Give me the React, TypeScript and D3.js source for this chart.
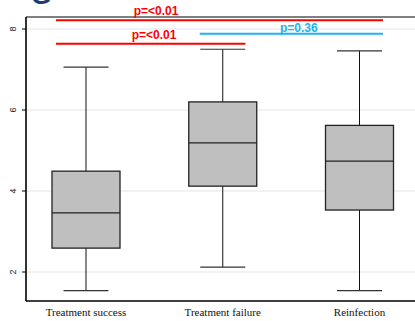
import React from "react";
import * as d3 from "d3";

const categories = ["Treatment success", "Treatment failure", "Reinfection"];
const whiskerLow = [1.54, 2.12, 1.54];
const q1 = [2.59, 4.12, 3.53];
const median = [3.46, 5.19, 4.74];
const q3 = [4.49, 6.2, 5.62];
const whiskerHigh = [7.06, 7.5, 7.46];
const yTicks = [2, 4, 6, 8];

const compFrom = [0, 0, 1];
const compTo = [2, 1, 2];
const compLevel = [8.215, 7.637, 7.884];
const compLabel = ["p=<0.01", "p=<0.01", "p=0.36"];
const compColor = ["#FF0000", "#FF0000", "#1CB4EE"];

const W = 415;
const H = 321;

export default function App() {
  const left = 26;
  const top = 17;
  const bottom = 301;
  const y = d3.scaleLinear().domain([2, 8]).range([272, 29]);
  const x = d3.scalePoint<string>().domain(categories).range([86, 359.5]);
  const boxW = 68;
  const capW = 45;

  const lineStart = [-30, -30, -23];
  const lineEnd = [23.5, 22.7, 23.5];
  const textOffset = [70, 68, 76];
  const textDy = [-4.8, -4.7, -1.7];

  return (
    <svg
      width={W}
      height={H}
      style={{ position: "absolute", left: 0, top: 0, background: "#fff" }}
    >
      <text
        x={31}
        y={4}
        fontFamily="Liberation Sans, Arial, sans-serif"
        fontWeight="bold"
        fontSize={26}
        fill="#1F3B73"
      >
        G
      </text>
      {yTicks.map((t) => (
        <line key={"g" + t} x1={left} x2={W} y1={y(t)} y2={y(t)} stroke="#E6E6E6" strokeWidth={1.2} />
      ))}
      <line x1={left} x2={W} y1={top} y2={top} stroke="#555" strokeWidth={1.5} />
      <line x1={left} x2={left} y1={top} y2={bottom} stroke="#000" strokeWidth={1.6} />
      <line x1={left} x2={W} y1={bottom} y2={bottom} stroke="#000" strokeWidth={1.6} />
      {yTicks.map((t) => (
        <g key={"t" + t}>
          <line x1={left - 4} x2={left} y1={y(t)} y2={y(t)} stroke="#000" strokeWidth={1} />
          <text
            transform={`translate(16,${y(t)}) rotate(-90)`}
            textAnchor="middle"
            fontFamily="Liberation Sans, Arial, sans-serif"
            fontSize={9}
            fill="#222"
          >
            {t}
          </text>
        </g>
      ))}
      {categories.map((c, i) => {
        const cx = x(c) as number;
        return (
          <g key={c}>
            <line x1={cx} x2={cx} y1={y(whiskerHigh[i])} y2={y(q3[i])} stroke="#111" strokeWidth={1} />
            <line x1={cx} x2={cx} y1={y(q1[i])} y2={y(whiskerLow[i])} stroke="#111" strokeWidth={1} />
            <line x1={cx - capW / 2} x2={cx + capW / 2} y1={y(whiskerHigh[i])} y2={y(whiskerHigh[i])} stroke="#333" strokeWidth={1.2} />
            <line x1={cx - capW / 2} x2={cx + capW / 2} y1={y(whiskerLow[i])} y2={y(whiskerLow[i])} stroke="#333" strokeWidth={1.2} />
            <rect
              x={cx - boxW / 2}
              y={y(q3[i])}
              width={boxW}
              height={y(q1[i]) - y(q3[i])}
              fill="#BFBFBF"
              stroke="#222"
              strokeWidth={1.3}
            />
            <line x1={cx - boxW / 2} x2={cx + boxW / 2} y1={y(median[i])} y2={y(median[i])} stroke="#222" strokeWidth={1.2} />
            <text
              x={cx}
              y={316}
              textAnchor="middle"
              fontFamily="Liberation Serif, Times New Roman, serif"
              fontSize={11}
              fill="#111"
            >
              {c}
            </text>
          </g>
        );
      })}
      {compLabel.map((lab, i) => {
        const x1 = (x(categories[compFrom[i]]) as number) + lineStart[i];
        const x2 = (x(categories[compTo[i]]) as number) + lineEnd[i];
        const yy = y(compLevel[i]);
        return (
          <g key={"c" + i}>
            <line x1={x1} x2={x2} y1={yy} y2={yy} stroke={compColor[i]} strokeWidth={2} />
            <text
              x={(x(categories[compFrom[i]]) as number) + textOffset[i]}
              y={yy + textDy[i]}
              textAnchor="middle"
              fontFamily="Liberation Sans, Arial, sans-serif"
              fontWeight="bold"
              fontSize={12}
              fill={compColor[i]}
            >
              {lab}
            </text>
          </g>
        );
      })}
    </svg>
  );
}
